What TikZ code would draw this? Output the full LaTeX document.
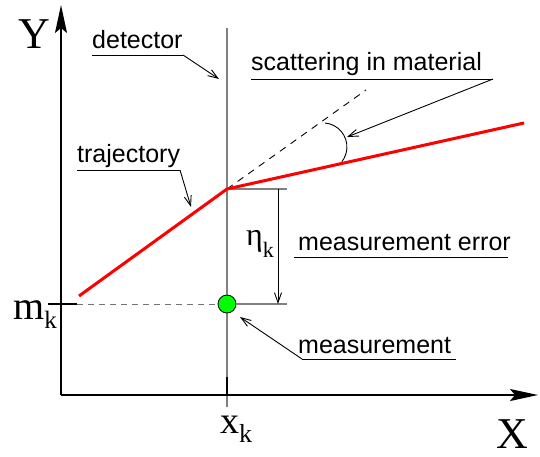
\documentclass[tikz,border=0pt]{standalone}
\usepackage{fontspec}
\setmainfont{Liberation Sans}
\newfontfamily\tmsfont{Liberation Serif}
\usetikzlibrary{arrows.meta}
\begin{document}
\begin{tikzpicture}[x=1pt,y=-1pt,
  lbl/.style={font=\fontsize{25}{30}\selectfont, inner sep=0pt, anchor=base west},
  big/.style={font=\tmsfont\fontsize{44}{48}\selectfont, inner sep=0pt, anchor=base west},
  sym/.style={font=\tmsfont, inner sep=0pt, anchor=base west},
  axis/.style={line width=1.6pt, -{Stealth[length=28pt,width=12pt,inset=5pt]}},
  leader/.style={line width=0.9pt, black},
  pointer/.style={leader, -{Straight Barb[length=10pt,width=7pt]}},
  grayline/.style={line width=1.4pt, black!50},
  traj/.style={line width=3pt, red},
  ext/.style={line width=0.9pt, dash pattern=on 7pt off 6pt},
  meas/.style={circle, draw=black, line width=0.8pt, fill=green, minimum size=18pt, inner sep=0pt}
]
\useasboundingbox (0,0) rectangle (540,456);

% coordinates
\coordinate (O) at (61,395);
\coordinate (Ytip) at (61,5);
\coordinate (Xtip) at (538,395);
\coordinate (Dtop) at (227,28);
\coordinate (Dbot) at (227,407);
\coordinate (K) at (227,189);
\coordinate (Tstart) at (79,296);
\coordinate (Tend) at (524,123);
\coordinate (Eend) at (366,90);

% detector plane
\draw[grayline] (Dtop) -- (Dbot);
\draw[line width=1.6pt] (227,377) -- (227,395);

% axes
\draw[axis] (O) -- (Ytip);
\draw[axis] (O) -- (Xtip);
\draw[line width=1.2pt] (48,304) -- (77,304);

% extension of the trajectory
\draw[ext] (K) -- (Eend);

% horizontal reference lines
\coordinate (Kr) at (287,189);
\coordinate (Mr) at (287,304);
\draw[grayline] (K) -- (Kr);

% measurement
\node[meas] (M) at (227,304) {};
\draw[black!55, line width=1pt, dash pattern=on 6pt off 5pt] (77,304) -- (M.west);
\draw[grayline] (M.east) -- (Mr);

% eta arrow
\coordinate (Et) at (278,189);
\coordinate (Eb) at (278,304);
\draw[pointer] (Et) -- (Eb);

% trajectory
\draw[traj, line join=miter] (Tstart) -- (K) -- (Tend);

% scattering angle arc
\draw[line width=0.9pt] (325,123) arc[start angle=-85, end angle=38, radius=24];

% axis labels
\node[big] (Y) at (18,48) {Y};
\node[big] (X) at (496,448) {X};
\node[sym] (mk) at (13,319) {\fontsize{40}{40}\selectfont m\raisebox{-9pt}{\fontsize{25}{25}\selectfont k}};
\node[sym] (xk) at (220,433) {\fontsize{38}{38}\selectfont x\raisebox{-9pt}{\fontsize{26}{26}\selectfont k}};
\node[sym] (eta) at (246,245) {\fontsize{32}{32}\selectfont η\raisebox{-12pt}{\fontsize{22}{22}\selectfont k}};

% text labels
\node[lbl] (det) at (92,48) {detector};
\coordinate (detU1) at (92,55);
\coordinate (detU2) at (183,55);
\coordinate (detT) at (219,79);
\draw[leader] (detU1) -- (detU2);
\draw[pointer] (detU2) -- (detT);

\node[lbl] (sca) at (251,70) {scattering in material};
\coordinate (scaU1) at (251,79);
\coordinate (scaU2) at (493,79);
\coordinate (scaT) at (347,137);
\draw[leader] (scaU1) -- (scaU2);
\draw[pointer] (scaU2) -- (scaT);

\node[lbl] (tra) at (77,162) {trajectory};
\coordinate (traU1) at (77,170);
\coordinate (traU2) at (180,170);
\coordinate (traT) at (191,207);
\draw[leader] (traU1) -- (traU2);
\draw[pointer] (traU2) -- (traT);

\node[lbl] (err) at (298,250) {measurement error};
\coordinate (errU1) at (294,257);
\coordinate (errU2) at (508,257);
\draw[leader] (errU1) -- (errU2);

\node[lbl] (mes) at (298,353) {measurement};
\coordinate (mesU1) at (456,359);
\coordinate (mesU2) at (302,359);
\coordinate (mesT) at (240,317);
\draw[leader] (mesU1) -- (mesU2);
\draw[pointer] (mesU2) -- (mesT);
\end{tikzpicture}
\end{document}
